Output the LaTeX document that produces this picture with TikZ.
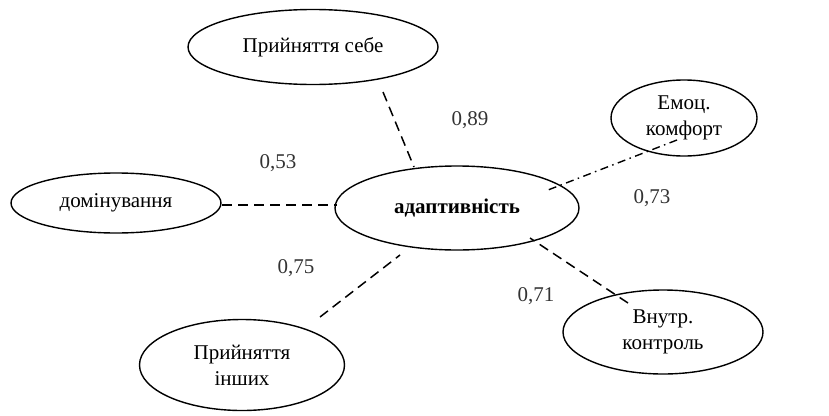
\documentclass[tikz,border=0pt]{standalone}
\usepackage{fontspec}
\setmainfont{Liberation Serif}
\usetikzlibrary{shapes.geometric}
\begin{document}
\begin{tikzpicture}[x=1pt,y=-1pt,
  ell/.style={draw,line width=1.4pt,ellipse,inner sep=0pt},
  lab/.style={font=\fontsize{21}{26}\selectfont,text=black!80},
  conn/.style={line width=1.5pt,dash pattern=on 10pt off 6pt},
  conndd/.style={line width=1.4pt,dash pattern=on 8pt off 4.5pt on 1.5pt off 4.5pt},
  txt/.style={font=\fontsize{21}{26}\selectfont,align=center}]
\useasboundingbox (0,0) rectangle (829,415);
\node[ell,minimum width=250pt,minimum height=75pt,txt] (ps) at (313,47) {Прийняття себе};
\node[ell,minimum width=146pt,minimum height=76pt,txt] (ek) at (684,118) {Емоц.\\комфорт};
\node[ell,minimum width=210pt,minimum height=60pt,txt] (dom) at (116,203) {домінування};
\node[ell,minimum width=244pt,minimum height=84pt,txt,font=\fontsize{21}{26}\selectfont\bfseries] (ad) at (457,208) {адаптивність};
\node[ell,minimum width=205pt,minimum height=91pt,txt] (pi) at (242,365) {Прийняття\\інших};
\node[ell,minimum width=200pt,minimum height=84pt,txt] (vk) at (663,332) {Внутр.\\контроль};
\coordinate (a1) at (383,92); \coordinate (b1) at (414,167);
\coordinate (a2) at (677,140); \coordinate (b2) at (548,190);
\coordinate (a3) at (222,205); \coordinate (b3) at (337,205);
\coordinate (a4) at (320,317); \coordinate (b4) at (400,255);
\coordinate (a5) at (628,303); \coordinate (b5) at (530,238);
\draw[conn] (a1) -- (b1);
\draw[conndd] (a2) -- (b2);
\draw[conn] (a3) -- (b3);
\draw[conn] (a4) -- (b4);
\draw[conn] (a5) -- (b5);
\node[lab] (l1) at (470,120) {0,89};
\node[lab] (l2) at (278,163) {0,53};
\node[lab] (l3) at (652,198) {0,73};
\node[lab] (l4) at (296,268) {0,75};
\node[lab] (l5) at (536,296) {0,71};
\end{tikzpicture}
\end{document}
